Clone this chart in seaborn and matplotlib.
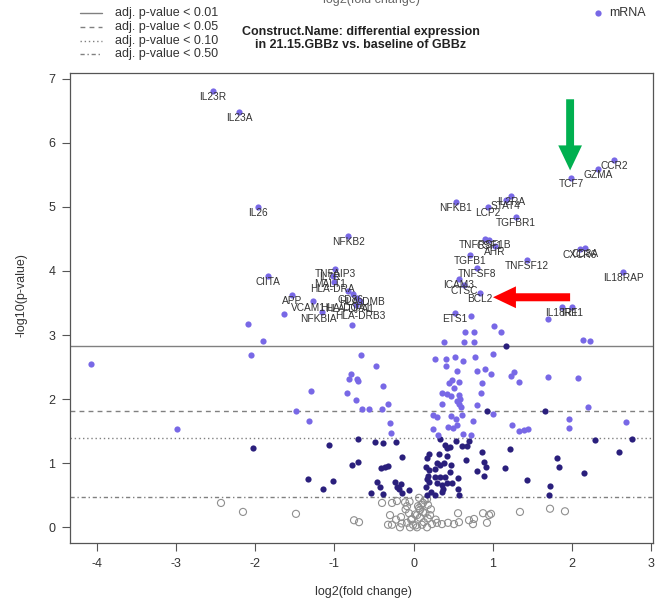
import numpy as np
import pandas as pd
import matplotlib
matplotlib.use("Agg")
import matplotlib.pyplot as plt
import seaborn as sns
from matplotlib.lines import Line2D
from matplotlib.patches import FancyArrow

sns.set_theme(style="white")
plt.rcParams['font.family'] = ['Liberation Sans', 'DejaVu Sans']

# ---------------- data ----------------
gene_names = ["IL23R", "IL23A", "IL26", "NFKB2", "CIITA", "TNFAIP3", "IL7R", "MALT1",
              "HLA-DRA", "CD86", "HLA-DMB", "HLA-DPA1", "HLA-DQA1", "APP", "VCAM1",
              "NFKBIA", "HLA-DRB3", "TCF7", "GZMA", "CCR2", "IL2RA", "STAT4", "NFKB1",
              "LCP2", "TGFBR1", "TNFRSF1B", "CSF1", "AHR", "TGFB1", "TNFSF12", "TNFSF8",
              "CXCR6", "CD8A", "IL18RAP", "ICAM3", "CTSC", "BCL2", "ETS1", "IL18R1", "IRF1"]
gene_lfc = [-2.535, -2.206, -1.966, -0.828, -1.839, -0.992, -1.018, -1.005,
            -0.828, -0.765, -0.714, -0.676, -0.727, -1.536, -1.271,
            -1.157, -0.777, 1.991, 2.332, 2.535, 1.233, 1.169, 0.537,
            0.942, 1.296, 0.904, 0.955, 1.030, 0.714, 1.435, 0.803,
            2.105, 2.168, 2.649, 0.575, 0.638, 0.841, 0.525, 1.877, 2.004]
gene_nlp = [6.81, 6.48, 5.00, 4.54, 3.92, 4.03, 3.92, 3.83,
            3.69, 3.64, 3.58, 3.53, 3.47, 3.62, 3.53,
            3.36, 3.16, 5.45, 5.59, 5.73, 5.17, 5.11, 5.07,
            5.00, 4.84, 4.50, 4.48, 4.39, 4.25, 4.17, 4.05,
            4.34, 4.36, 3.98, 3.87, 3.78, 3.66, 3.34, 3.44, 3.44]

light_lfc = [0.727, 1.700, 1.018, 0.651, 0.765, 1.106, 0.386, 0.638, 0.765, 2.143, 2.231,
             -1.637, -2.092, -1.903, -2.054,
             -0.664, -0.474, -0.790, -0.815, -0.714, -0.702, -0.841, -0.727, -0.651, -0.563,
             -0.386, -0.398, -0.322,
             0.272, 0.411, 0.525, 0.626, 0.777, 1.005, 0.411, 0.550, 0.803, 0.904, 0.980,
             0.449, 0.487, 0.575, 0.512, 0.866, 0.360, 0.424, 0.474, 0.575, 0.588, 0.550,
             0.575, 0.601, 0.853, 0.360, 0.803, 1.233, 1.271, 1.334, 1.700, 2.080, 2.206,
             0.247, 0.297, 0.474, 0.537, 0.613, 0.752, 1.005, 0.436, 0.499, 0.550, 0.247,
             0.626, 0.727, 0.310, 1.245, 1.334, 1.397, 1.448, 1.966, 1.966, 2.686,
             -0.297, -0.284,
             -4.077, -2.990, -1.486, -1.296, -1.321]
light_nlp = [3.30, 3.25, 3.14, 3.05, 3.05, 3.05, 2.89, 2.89, 2.89, 2.92, 2.91,
             3.33, 3.17, 2.90, 2.69,
             2.69, 2.52, 2.39, 2.31, 2.31, 2.28, 2.10, 1.99, 1.85, 1.85,
             2.20, 1.85, 1.92,
             2.62, 2.62, 2.66, 2.59, 2.66, 2.70, 2.52, 2.44, 2.44, 2.47, 2.39,
             2.25, 2.30, 2.27, 2.17, 2.25, 2.10, 2.08, 2.05, 2.06, 2.00, 1.97,
             1.92, 1.88, 2.10, 1.92, 1.91, 2.36, 2.42, 2.27, 2.35, 2.33, 1.88,
             1.75, 1.72, 1.74, 1.69, 1.75, 1.66, 1.77, 1.56, 1.55, 1.60, 1.53,
             1.46, 1.44, 1.44, 1.60, 1.50, 1.52, 1.53, 1.69, 1.55, 1.64,
             1.63, 1.47,
             2.55, 1.54, 1.81, 2.13, 1.66]

dark_lfc = [1.169, 0.929, 1.662, -0.702, -0.487, -0.386, -0.221, 0.335, 0.398, 0.424, 0.461,
            0.537, 0.613, 0.676, 0.702, 0.196, 0.171, -0.145, 0.322, 0.424, 0.664, 0.866,
            1.220, 1.814, 1.839, 2.295, 2.762, 2.598, -0.777, -0.702, -0.411, -0.360, -0.322,
            0.158, 0.196, 0.183, 0.297, 0.335, 0.386, 0.272, 0.474, 0.335, 0.398, 0.272,
            0.461, 0.563, 0.487, 0.196, 0.158, 0.171, 0.297, 0.360, 0.424, 0.221, 0.171,
            0.272, 0.373, 0.360, 0.563, 0.575, 0.803, 0.891, 0.891, 0.917, 1.157, 1.435,
            1.726, 1.713, 2.156, -0.461, -0.424, -0.234, -0.209, -0.158, -0.145, -0.183,
            -0.057, -0.386, -0.537, -1.018, -2.029, -1.334, -1.144, -1.068]
dark_nlp = [2.83, 1.81, 1.81, 1.38, 1.33, 1.32, 1.33, 1.38, 1.28, 1.24, 1.25,
            1.35, 1.27, 1.27, 1.35, 1.14, 1.08, 1.10, 1.14, 1.11, 1.05, 1.17,
            1.22, 1.08, 0.94, 1.36, 1.38, 1.17, 0.97, 1.02, 0.93, 0.94, 0.96,
            0.94, 0.89, 0.80, 1.00, 0.97, 1.00, 0.91, 0.97, 0.78, 0.78, 0.78,
            0.86, 0.77, 0.69, 0.71, 0.63, 0.75, 0.69, 0.66, 0.69, 0.55, 0.50,
            0.50, 0.60, 0.55, 0.60, 0.50, 0.88, 0.80, 1.02, 0.94, 0.93, 0.74,
            0.64, 0.50, 0.85, 0.71, 0.63, 0.71, 0.63, 0.68, 0.54, 0.60,
            0.58, 0.52, 0.54, 0.72, 1.24, 0.75, 0.60, 1.28]

gray_lfc = [-0.398, -0.272, -0.209, -0.107, -0.082, 0.070, 0.171, 0.057, 0.120, 0.183,
            -0.752, -0.689, -0.297, -0.158, -0.057, -0.019, 0.044, 0.082, 0.120, 0.209,
            -0.322, -0.272, -0.171, -0.082, -0.044, -0.006, 0.044, 0.107, 0.171, 0.234,
            0.297, 0.360, 0.436, 0.512, 0.575, 0.563, 0.702, 0.765, 0.929, 0.879, 0.955,
            0.980, 1.346, 1.726, 1.915, 0.752, -2.434, -2.156, -1.486,
            -0.10, -0.03, 0.02, 0.08, 0.13, 0.18, -0.15, 0.03, 0.07, 0.14, 0.10, -0.05,
            0.22, 0.28, -0.22, 0.15]
gray_nlp = [0.38, 0.38, 0.41, 0.39, 0.33, 0.46, 0.44, 0.33, 0.38, 0.35,
            0.11, 0.08, 0.19, 0.16, 0.22, 0.13, 0.19, 0.27, 0.24, 0.19,
            0.04, 0.04, 0.00, 0.07, 0.00, 0.04, 0.00, 0.04, 0.00, 0.05,
            0.07, 0.05, 0.07, 0.05, 0.08, 0.22, 0.11, 0.13, 0.07, 0.22, 0.19,
            0.21, 0.24, 0.29, 0.25, 0.05, 0.38, 0.24, 0.21,
            0.28, 0.12, 0.20, 0.15, 0.08, 0.14, 0.06, 0.03, 0.30, 0.42, 0.35, 0.40,
            0.28, 0.12, 0.12, 0.22]

thresholds = [2.833, 1.814, 1.393, 0.473]
threshold_labels = ["adj. p-value < 0.01", "adj. p-value < 0.05",
                    "adj. p-value < 0.10", "adj. p-value < 0.50"]
x_ticks = [-4, -3, -2, -1, 0, 1, 2, 3]
y_ticks = [0, 1, 2, 3, 4, 5, 6, 7]

# ---------------- styles ----------------
LIGHT = "#7868e6"
DARK = "#2a1f7c"
GRAYC = "#8f8f8f"
LINEC = "#808080"
TXT = "#333333"
line_styles = ['-', (0, (3.5, 3)), (0, (1, 2)), (0, (3, 2, 1, 2))]

label_offsets = {"HLA-DRA": (-16, 2), "CD86": (-2, -6), "HLA-DMB": (5, -4),
                 "HLA-DQA1": (-11, -3), "HLA-DPA1": (-10, -8), "HLA-DRB3": (8, 9),
                 "VCAM1": (-5, -7), "NFKBIA": (-4, -7), "IL7R": (-3, -1),
                 "MALT1": (-4, -2), "TNFAIP3": (0, -5)}

W, H = 657, 603
fig = plt.figure(figsize=(W / 100, H / 100), dpi=100)
ax = fig.add_axes([70 / W, 1 - 543 / H, 583 / W, 470 / H])

genes = pd.DataFrame({"gene": gene_names, "lfc": gene_lfc, "nlp": gene_nlp})
light = pd.DataFrame({"lfc": light_lfc, "nlp": light_nlp})
dark = pd.DataFrame({"lfc": dark_lfc, "nlp": dark_nlp})
gray = pd.DataFrame({"lfc": gray_lfc, "nlp": gray_nlp})

sns.scatterplot(data=gray, x="lfc", y="nlp", ax=ax, s=26, facecolors="none",
                edgecolor=GRAYC, linewidth=0.8, zorder=3)
sns.scatterplot(data=dark, x="lfc", y="nlp", ax=ax, s=20, color=DARK, linewidth=0, zorder=3)
sns.scatterplot(data=light, x="lfc", y="nlp", ax=ax, s=20, color=LIGHT, linewidth=0, zorder=3)
sns.scatterplot(data=genes, x="lfc", y="nlp", ax=ax, s=20, color=LIGHT, linewidth=0, zorder=3)

for g, xv, yv in zip(gene_names, gene_lfc, gene_nlp):
    dx, dy = label_offsets.get(g, (0, -6))
    ax.annotate(g, (xv, yv), xytext=(dx, dy), textcoords="offset pixels",
                ha="center", va="center", fontsize=7.3, color=TXT, zorder=4)

for t, ls in zip(thresholds, line_styles):
    ax.axhline(t, color=LINEC, lw=1.0, ls=ls, zorder=2)

# arrows (annotations)
ax.add_patch(FancyArrow(1.98, 6.68, 0, -1.11, width=0.10, head_width=0.30,
                        head_length=0.39, length_includes_head=True,
                        color="#00b050", lw=0, zorder=5))
ax.add_patch(FancyArrow(1.98, 3.59, -0.975, 0, width=0.125, head_width=0.34,
                        head_length=0.29, length_includes_head=True,
                        color="#ff0000", lw=0, zorder=5))

ax.set_xlim(-4.343, 3.028)
ax.set_ylim(-0.245, 7.09)
ax.set_xticks(x_ticks)
ax.set_yticks(y_ticks)
ax.set_xticklabels([str(v) for v in x_ticks])
ax.set_yticklabels([str(v) for v in y_ticks])
ax.tick_params(axis="both", which="both", bottom=True, left=True, direction="out",
               length=5.5, width=0.8, color="#555555", labelsize=9, labelcolor=TXT, pad=5)
for sp in ax.spines.values():
    sp.set_visible(True)
    sp.set_color("#555555")
    sp.set_linewidth(0.9)

ax.set_xlabel("log2(fold change)", fontsize=9, color=TXT)
ax.set_ylabel("-log10(p-value)", fontsize=9, color=TXT)
ax.xaxis.set_label_coords((363 - 70) / 583, (543 - 586) / 470)
ax.yaxis.set_label_coords((27 - 70) / 583, (543 - 295) / 470)

# title
fig.text(361 / W, 1 - 38.5 / H,
         "Construct.Name: differential expression\nin 21.15.GBBz vs. baseline of GBBz",
         ha="center", va="center", fontsize=9, fontweight="bold", color="#222222",
         linespacing=1.05)

# clipped text at the very top
fig.text(371 / W, 1 - 2.5 / H, "log2(fold change)", ha="center", va="baseline",
         fontsize=9, color="#666666")

# threshold legend (top-left)
rows = [13, 27, 41, 54]
for r, ls, lab in zip(rows, line_styles, threshold_labels):
    fig.add_artist(Line2D([80 / W, 102 / W], [1 - r / H, 1 - r / H], color=LINEC,
                          lw=1.0, ls=ls, transform=fig.transFigure))
    fig.text(115 / W, 1 - r / H, lab, ha="left", va="center", fontsize=9, color=TXT)

# mRNA legend (top-right)
fig.add_artist(Line2D([598 / W], [1 - 13 / H], marker="o", markersize=4.5, ls="none",
                      color=LIGHT, markeredgewidth=0, transform=fig.transFigure))
fig.text(609 / W, 1 - 13 / H, "mRNA", ha="left", va="center", fontsize=9, color=TXT)

fig.savefig("out.png", dpi=100)
